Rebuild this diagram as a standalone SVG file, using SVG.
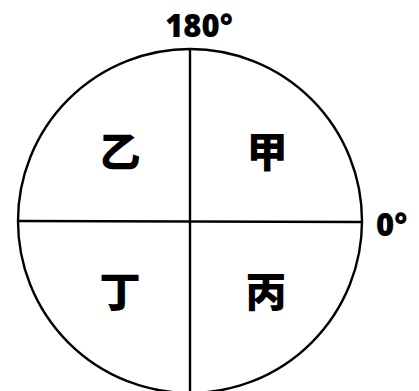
<svg xmlns="http://www.w3.org/2000/svg" width="419" height="391" viewBox="0 0 419 391">
<style>
.ln{stroke:#000;stroke-width:2.4;fill:none}
.deg{font-family:"Open Sans","Liberation Sans",sans-serif;font-weight:800;font-size:31px;fill:#000}
.cn{font-family:"Noto Sans CJK SC","Noto Sans CJK TC",sans-serif;font-weight:900;font-size:41px;fill:#000;text-anchor:middle}
</style>
<rect width="419" height="391" fill="#fff"/>
<g id="connectors">
<circle class="ln" cx="190" cy="221" r="172"/>
<line class="ln" x1="190" y1="49" x2="190" y2="391"/>
<line class="ln" x1="18" y1="221" x2="362" y2="222"/>
</g>
<g id="label-180"><text class="deg" x="199" y="37" text-anchor="middle">180°</text></g>
<g id="label-0"><text class="deg" x="376" y="236">0°</text></g>
<g id="q-yi"><text class="cn" x="120" y="167">乙</text></g>
<g id="q-jia"><text class="cn" x="267" y="167">甲</text></g>
<g id="q-ding"><text class="cn" x="120" y="307">丁</text></g>
<g id="q-bing"><text class="cn" x="266" y="307">丙</text></g>
</svg>
